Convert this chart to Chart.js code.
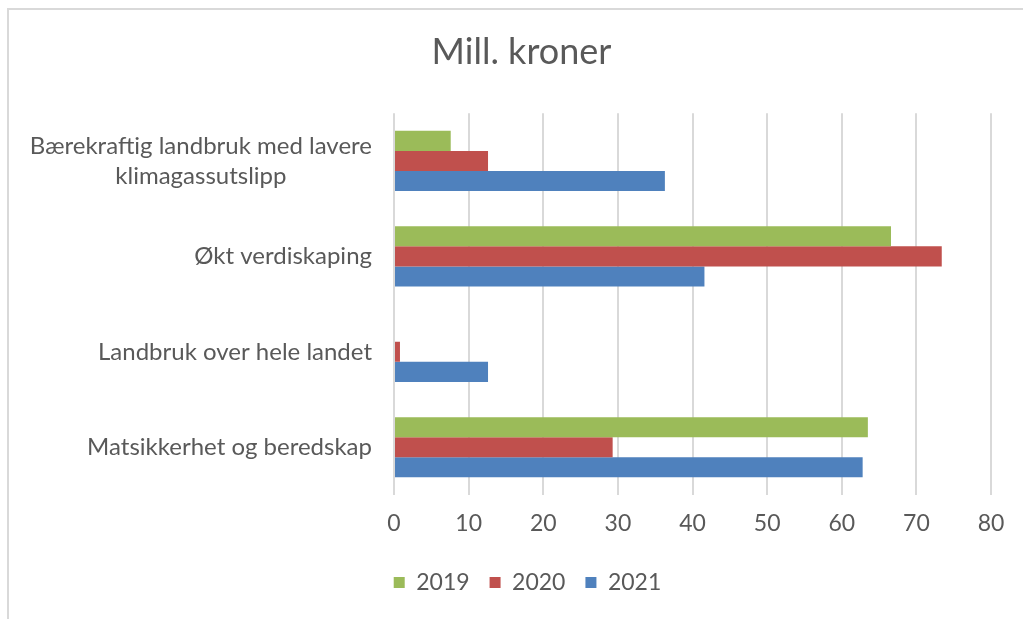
<!DOCTYPE html>
<html>
<head>
<meta charset="utf-8">
<script src="https://cdn.jsdelivr.net/npm/chart.js@4"></script>
<style>
  html, body { margin: 0; padding: 0; background: #fff; overflow: hidden; }
  #frame {
    position: absolute; left: 7px; top: 8px;
    width: 1030px; height: 620px;
    border-left: 2px solid #d9d9d9; border-top: 2px solid #d9d9d9;
  }
  #wrap { position: relative; width: 1030px; height: 609px; }
</style>
</head>
<body>
<div id="frame"><div id="wrap"><canvas id="chart"></canvas></div></div>
<script>
// kategorier ovenfra og ned
const categories = [
  ["Bærekraftig landbruk med lavere", "klimagassutslipp"],
  "Økt verdiskaping",
  "Landbruk over hele landet",
  "Matsikkerhet og beredskap"
]
const years = ["2019", "2020", "2021"]
const values2019 = [7.6, 66.6, 0, 63.5]
const values2020 = [12.6, 73.4, 0.8, 29.3]
const values2021 = [36.3, 41.6, 12.6, 62.8]
const xTicks = [0, 10, 20, 30, 40, 50, 60, 70, 80]

const colors = ["#9bbb59", "#c0504d", "#4f81bd"]
const textColor = "#595959"
const font = "Lato"
const labelSize = 24

// Excel midtstiller linjene i en kategori med to linjer, mens labelen ellers er høyrejustert
const measure = document.createElement("canvas").getContext("2d")
measure.font = labelSize + "px " + font
function centerLines(label) {
  if (!Array.isArray(label)) return label
  let widths = label.map(l => measure.measureText(l).width)
  let maxW = Math.max(...widths)
  let sp = measure.measureText("\u200A").width || 1
  return label.map((l, i) => l + "\u200A".repeat(Math.round((maxW - widths[i]) / 2 / sp)))
}

// tittel og forklaring sentreres over hele diagramflaten, ikke bare plottet
const shiftBoxes = {
  id: "shiftBoxes",
  afterLayout(chart) {
    chart.titleBlock.left += 43
    chart.legend.left += 55
  }
}

let chart = new Chart("chart", {
  type: "bar",
  data: {
    labels: categories,
    datasets: [values2019, values2020, values2021].map((vals, i) => ({
      label: years[i],
      data: vals,
      backgroundColor: colors[i],
      borderWidth: 0,
      barPercentage: 1,
      categoryPercentage: 0.63
    }))
  },
  options: {
    indexAxis: "y",
    responsive: true,
    maintainAspectRatio: false,
    animation: false,
    layout: { padding: { left: 0, right: 48, top: 0, bottom: 15 } },
    scales: {
      x: {
        min: 0,
        max: 80,
        afterBuildTicks(scale) {
          scale.ticks = xTicks.map(v => ({ value: v }))
        },
        afterFit(scale) { scale.height = 56 },
        border: { display: false },
        grid: { color: "#d9d9d9", lineWidth: 2, drawTicks: false },
        ticks: { color: textColor, font: { family: font, size: 23 }, padding: 15 }
      },
      y: {
        afterFit(scale) { scale.width = 385 },
        border: { display: false },
        grid: { display: false, drawTicks: false },
        ticks: {
          color: textColor,
          font: { family: font, size: labelSize, lineHeight: 1.25 },
          padding: 22,
          callback(value) { return centerLines(this.getLabelForValue(value)) }
        }
      }
    },
    plugins: {
      title: {
        display: true,
        text: "Mill. kroner",
        color: textColor,
        font: { family: font, size: 36, weight: "normal", lineHeight: 1.2 },
        padding: { top: 21, bottom: 39 }
      },
      legend: {
        position: "bottom",
        labels: {
          color: textColor,
          font: { family: font, size: 23 },
          boxWidth: 11,
          boxHeight: 11,
          padding: 20
        }
      },
      tooltip: { enabled: false }
    }
  },
  plugins: [shiftBoxes]
})
</script>
</body>
</html>
